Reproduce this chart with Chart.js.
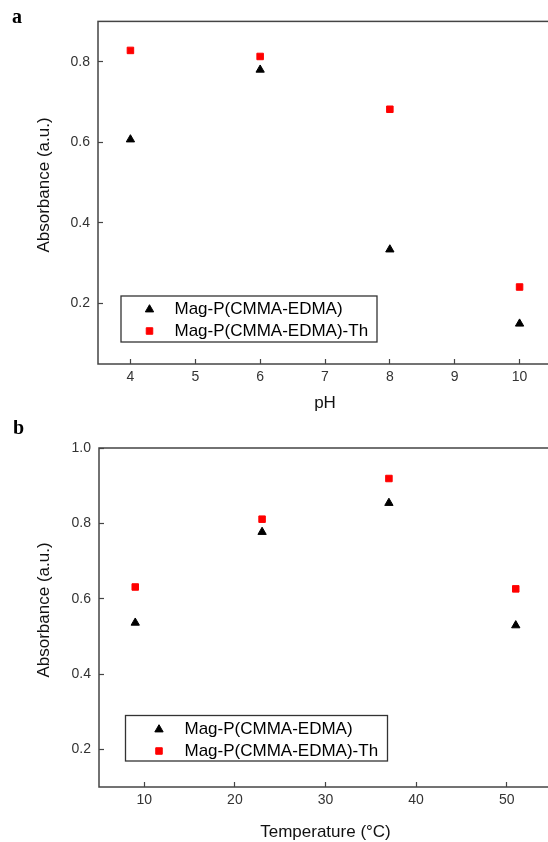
<!DOCTYPE html>
<html>
<head>
<meta charset="utf-8">
<script src="https://cdn.jsdelivr.net/npm/chart.js@4"></script>
<style>
  html, body { margin: 0; padding: 0; background: #fff; overflow: hidden; width: 548px; height: 842px; }
  canvas { position: absolute; left: 0; }
  #chartA { top: 0; }
  #chartB { top: 420px; }
</style>
</head>
<body>
<canvas id="chartA" width="600" height="420"></canvas>
<canvas id="chartB" width="600" height="430"></canvas>
<script>
// panel a - absorbance vs pH
const phValues = [4, 6, 8, 10];
const phMagP = [0.607, 0.780, 0.334, 0.150];
const phMagPTh = [0.828, 0.813, 0.682, 0.241];
const phXTicks = [4, 5, 6, 7, 8, 9, 10];
const phYTicks = [0.2, 0.4, 0.6, 0.8];

// panel b - absorbance vs temperature
const tempValues = [9, 23, 37, 51];
const tempMagP = [0.536, 0.777, 0.854, 0.529];
const tempMagPTh = [0.631, 0.811, 0.919, 0.626];
const tempXTicks = [10, 20, 30, 40, 50];
const tempYTicks = [0.2, 0.4, 0.6, 0.8, 1.0];

const seriesNames = ['Mag-P(CMMA-EDMA)', 'Mag-P(CMMA-EDMA)-Th'];
const yTitle = 'Absorbance (a.u.)';

const sans = '"Liberation Sans", Arial, sans-serif';

// frame, y title, panel letter and legend box
const decor = {
  id: 'decor',
  afterDraw(chart, args, opts) {
    const ctx = chart.ctx;
    const a = chart.chartArea;
    ctx.save();
    ctx.strokeStyle = '#444';
    ctx.lineWidth = 1.5;
    ctx.strokeRect(a.left, a.top, a.right - a.left, a.bottom - a.top);

    ctx.fillStyle = '#111';
    ctx.font = '17px ' + sans;
    ctx.textAlign = 'center';
    ctx.textBaseline = 'middle';
    ctx.save();
    ctx.translate(opts.yTitleX, opts.yTitleY);
    ctx.rotate(-Math.PI / 2);
    ctx.fillText(yTitle, 0, 0);
    ctx.restore();

    ctx.font = 'bold 20px "Liberation Serif", "Times New Roman", serif';
    ctx.textAlign = 'left';
    ctx.textBaseline = 'alphabetic';
    ctx.fillStyle = '#000';
    ctx.fillText(opts.letter, opts.letterX, opts.letterY);

    const L = opts.legend;
    ctx.strokeStyle = '#333';
    ctx.lineWidth = 1.3;
    ctx.strokeRect(L.x, L.y, L.w, L.h);
    ctx.font = '17px ' + sans;
    ctx.textBaseline = 'middle';
    chart.data.datasets.forEach((ds, i) => {
      const y = L.rows[i];
      ctx.fillStyle = ds.backgroundColor;
      ctx.strokeStyle = ds.borderColor;
      ctx.lineWidth = ds.borderWidth;
      Chart.helpers.drawPoint(ctx, {
        pointStyle: ds.pointStyle, radius: ds.pointRadius, rotation: 0, borderWidth: ds.borderWidth
      }, L.markerX, y);
      ctx.fillStyle = '#000';
      ctx.fillText(ds.label, L.textX, y);
    });
    ctx.restore();
  }
};

function makeDatasets(xs, s1, s2) {
  return [
    {
      label: seriesNames[0],
      data: xs.map((x, i) => ({ x: x, y: s1[i] })),
      pointStyle: 'triangle', pointRadius: 4.8,
      backgroundColor: '#000', borderColor: '#000', borderWidth: 1
    },
    {
      label: seriesNames[1],
      data: xs.map((x, i) => ({ x: x, y: s2[i] })),
      pointStyle: 'rect', pointRadius: 4.6,
      backgroundColor: '#ff0000', borderColor: '#ff0000', borderWidth: 1
    }
  ];
}

function makeChart(id, cfg) {
  return new Chart(document.getElementById(id), {
    type: 'scatter',
    data: { datasets: makeDatasets(cfg.xs, cfg.s1, cfg.s2) },
    options: {
      responsive: false,
      animation: false,
      devicePixelRatio: 1,
      layout: { padding: { top: cfg.padTop, right: cfg.padRight, left: 0, bottom: 0 } },
      plugins: {
        legend: { display: false },
        tooltip: { enabled: false },
        decor: cfg.decor
      },
      scales: {
        x: {
          type: 'linear',
          min: cfg.xMin, max: cfg.xMax,
          border: { display: false },
          grid: { drawOnChartArea: false, tickLength: -5, color: '#444', tickWidth: 1.2 },
          ticks: {
            autoSkip: false, maxRotation: 0, padding: 10, color: '#333',
            font: { family: sans, size: 14 },
            callback: v => String(v)
          },
          afterBuildTicks: s => { s.ticks = cfg.xTicks.map(v => ({ value: v })); },
          afterFit: s => { s.height = cfg.xHeight; },
          title: {
            display: true, text: cfg.xTitle, color: '#111',
            font: { family: sans, size: 17 },
            padding: { top: 0, bottom: cfg.xTitlePad }
          }
        },
        y: {
          min: cfg.yMin, max: cfg.yMax,
          border: { display: false },
          grid: { drawOnChartArea: false, tickLength: -5, color: '#444', tickWidth: 1.2 },
          ticks: {
            autoSkip: false, padding: 13, color: '#333',
            font: { family: sans, size: 14 },
            callback: v => v.toFixed(1)
          },
          afterBuildTicks: s => { s.ticks = cfg.yTicks.map(v => ({ value: v })); },
          afterFit: s => { s.width = cfg.yWidth; }
        }
      }
    },
    plugins: [decor]
  });
}

makeChart('chartA', {
  xs: phValues, s1: phMagP, s2: phMagPTh,
  xMin: 3.5, xMax: 10.5, yMin: 0.05, yMax: 0.9,
  xTicks: phXTicks, yTicks: phYTicks,
  padTop: 19, padRight: 48, xHeight: 56, yWidth: 98,
  xTitle: 'pH', xTitlePad: 6,
  decor: {
    yTitleX: 44.5, yTitleY: 185,
    letter: 'a', letterX: 12, letterY: 23,
    legend: { x: 121, y: 296, w: 256, h: 46, markerX: 149.5, textX: 174.5, rows: [309.5, 331] }
  }
});

makeChart('chartB', {
  xs: tempValues, s1: tempMagP, s2: tempMagPTh,
  xMin: 5, xMax: 55, yMin: 0.1, yMax: 1.0,
  xTicks: tempXTicks, yTicks: tempYTicks,
  padTop: 28, padRight: 48, xHeight: 63, yWidth: 99,
  xTitle: 'Temperature (°C)', xTitlePad: 7,
  decor: {
    yTitleX: 44.7, yTitleY: 190,
    letter: 'b', letterX: 13, letterY: 14,
    legend: { x: 125.5, y: 295.5, w: 262, h: 45.5, markerX: 159, textX: 184.5, rows: [309.5, 331] }
  }
});
</script>
</body>
</html>
